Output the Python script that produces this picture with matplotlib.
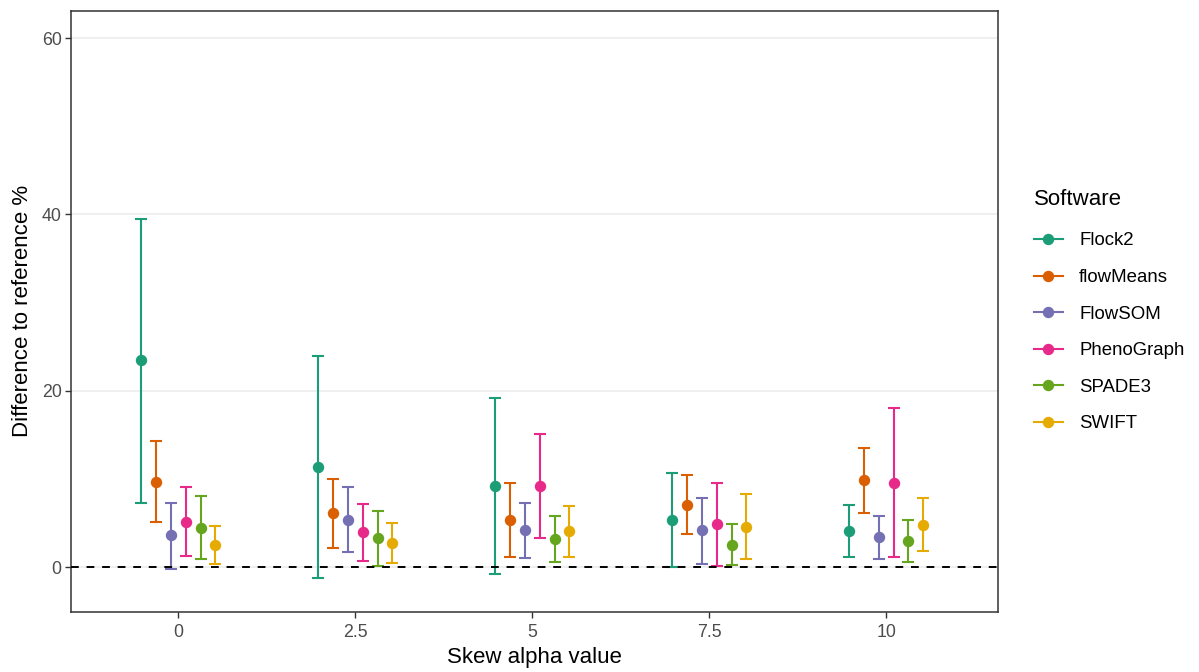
import matplotlib
matplotlib.use('Agg')
import matplotlib.pyplot as plt
from matplotlib.lines import Line2D
import numpy as np

plt.rcParams['font.family'] = ['Liberation Sans', 'DejaVu Sans']

# skew values on the x axis
skew = [0, 2.5, 5, 7.5, 10]
software = ['Flock2', 'flowMeans', 'FlowSOM', 'PhenoGraph', 'SPADE3', 'SWIFT']
colors = ['#1B9E77', '#D95F02', '#7570B3', '#E7298A', '#66A61E', '#E6AB02']

# mean difference and interval limits, one list per software
flock2_mean = [23.5, 11.4, 9.2, 5.3, 4.1]
flock2_lo = [7.3, -1.25, -0.8, 0.0, 1.13]
flock2_hi = [39.5, 24.0, 19.2, 10.65, 7.1]

flowmeans_mean = [9.7, 6.1, 5.4, 7.1, 9.86]
flowmeans_lo = [5.1, 2.15, 1.13, 3.74, 6.2]
flowmeans_hi = [14.3, 10.0, 9.6, 10.5, 13.5]

flowsom_mean = [3.6, 5.4, 4.2, 4.2, 3.44]
flowsom_lo = [-0.15, 1.74, 1.0, 0.4, 0.98]
flowsom_hi = [7.3, 9.1, 7.3, 7.9, 5.85]

phenograph_mean = [5.1, 3.97, 9.2, 4.9, 9.55]
phenograph_lo = [1.25, 0.75, 3.36, 0.1, 1.13]
phenograph_hi = [9.1, 7.2, 15.1, 9.55, 18.0]

spade3_mean = [4.5, 3.3, 3.2, 2.57, 3.0]
spade3_lo = [0.95, 0.1, 0.64, 0.23, 0.64]
spade3_hi = [8.1, 6.4, 5.8, 4.95, 5.3]

swift_mean = [2.5, 2.75, 4.1, 4.57, 4.83]
swift_lo = [0.34, 0.45, 1.2, 0.9, 1.78]
swift_hi = [4.65, 5.0, 6.95, 8.27, 7.9]

means = [flock2_mean, flowmeans_mean, flowsom_mean, phenograph_mean, spade3_mean, swift_mean]
lows = [flock2_lo, flowmeans_lo, flowsom_lo, phenograph_lo, spade3_lo, swift_lo]
highs = [flock2_hi, flowmeans_hi, flowsom_hi, phenograph_hi, spade3_hi, swift_hi]

fig = plt.figure(figsize=(11.99, 6.72), dpi=100)
ax = fig.add_axes([0.0595, 0.0897, 0.8324 - 0.0595, 0.984 - 0.0897])

dodge = 0.21
x = np.array(skew)
for i, name in enumerate(software):
    xs = x + (i - 2.5) * dodge
    m = np.array(means[i])
    lo = np.array(lows[i])
    hi = np.array(highs[i])
    ax.errorbar(xs, m, yerr=[m - lo, hi - m], fmt='none', ecolor=colors[i],
                elinewidth=1.5, capsize=4, capthick=1.5, zorder=3)
    ax.plot(xs, m, 'o', color=colors[i], markersize=7.2, zorder=4)

ax.axhline(0, color='black', linestyle=(0, (4, 4)), linewidth=1.4, zorder=5)

ax.set_xlim(-1.51, 11.58)
ax.set_ylim(-5.05, 63.1)
ax.set_xticks(skew)
ax.set_xticklabels(['0', '2.5', '5', '7.5', '10'])
ax.set_yticks([0, 20, 40, 60])
ax.grid(axis='y', color='#EBEBEB', linewidth=1.1, zorder=0)
ax.set_axisbelow(True)
for s in ax.spines.values():
    s.set_color('#333333')
    s.set_linewidth(1.1)
ax.tick_params(axis='both', length=4, width=1.0, color='#333333',
               labelcolor='#4D4D4D', labelsize=12.8, pad=3)
ax.tick_params(axis='x', pad=5)

ax.set_xlabel('Skew alpha value', fontsize=16, labelpad=4)
ax.set_ylabel('Difference to reference %', fontsize=16, labelpad=6)

handles = [Line2D([0], [0], color=c, marker='o', markersize=7.2, linewidth=1.5)
           for c in colors]
leg = fig.legend(handles, software, title='Software', loc='upper left',
                 bbox_to_anchor=(0.848, 0.744), frameon=False, fontsize=13.4,
                 title_fontsize=16, handlelength=1.6, labelspacing=1.05,
                 handletextpad=0.85)
leg._legend_box.align = 'left'
leg._legend_box.sep = 16.3

fig.savefig('out.png', dpi=100)
